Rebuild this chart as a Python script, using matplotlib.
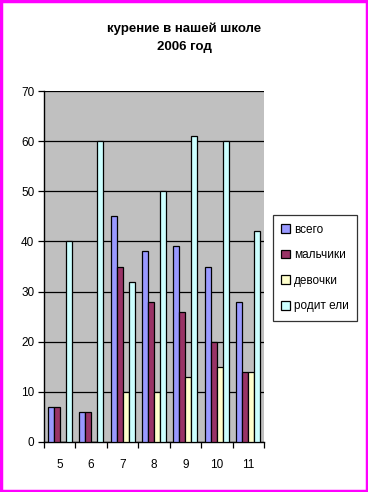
import numpy as np
import matplotlib.pyplot as plt
from matplotlib.patches import Rectangle

classes = ['5', '6', '7', '8', '9', '10', '11']
vsego = [7, 6, 45, 38, 39, 35, 28]
malchiki = [7, 6, 35, 28, 26, 20, 14]
devochki = [0, 0, 10, 10, 13, 15, 14]
roditeli = [40, 60, 32, 50, 61, 60, 42]

series = [vsego, malchiki, devochki, roditeli]
names = ['всего', 'мальчики', 'девочки', 'родит ели']
colors = ['#9999FF', '#993366', '#FFFFCC', '#CCFFFF']

plt.rcParams['font.family'] = ['Liberation Sans', 'DejaVu Sans']

fig = plt.figure(figsize=(3.68, 4.92), dpi=100)
fig.patch.set_facecolor('white')
ax = fig.add_axes([44/368, 1 - 442/492, 220/368, 351/492])
ax.set_facecolor('#C0C0C0')

x = np.arange(len(classes))
w = 0.19
for i, (vals, nm, c) in enumerate(zip(series, names, colors)):
    ax.bar(x + (i - 1.5) * w, vals, w, color=c, edgecolor='black',
           linewidth=0.9, label=nm, zorder=3)

ax.set_xlim(-0.5, len(classes) - 0.5)
ax.set_ylim(0, 70)
ax.set_yticks(range(0, 71, 10))
ax.yaxis.grid(True, color='black', linewidth=0.9, zorder=1)
ax.set_axisbelow(True)
ax.set_xticks(x)
ax.set_xticklabels(classes, fontsize=8.5)
ax.set_xticks(np.arange(-0.5, len(classes)), minor=True)
ax.tick_params(axis='x', which='major', length=0, pad=12)
ax.tick_params(axis='x', which='minor', length=4, width=0.9, direction='out')
ax.tick_params(axis='y', labelsize=8.5, length=4, width=0.9, pad=3)
for s in ['top', 'right']:
    ax.spines[s].set_visible(False)
for s in ['left', 'bottom']:
    ax.spines[s].set_linewidth(1.0)

fig.text(184/368, 1 - 29/492, 'курение в нашей школе', ha='center', va='center',
         fontsize=9.5, fontweight='bold')
fig.text(184/368, 1 - 47/492, '2006 год', ha='center', va='center',
         fontsize=9.5, fontweight='bold')

leg = fig.legend(loc='center', bbox_to_anchor=(315/368, 1 - 268/492),
                 fontsize=8.5, frameon=True, fancybox=False, edgecolor='black',
                 handlelength=0.75, handleheight=0.75, handletextpad=0.35,
                 labelspacing=1.15, borderpad=0.7, borderaxespad=0)
leg.get_frame().set_linewidth(0.9)

fig.patches.append(Rectangle((0.004, 0.003), 0.992, 0.994, transform=fig.transFigure,
                             fill=False, edgecolor='#FF00FF', linewidth=2.5))

plt.savefig('out.png', dpi=100)
